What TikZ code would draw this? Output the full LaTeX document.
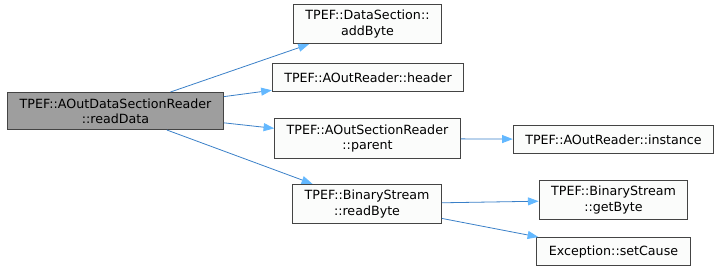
\documentclass[tikz,border=0pt]{standalone}
\usepackage{fontspec}
\setmainfont{DejaVu Sans}
\usetikzlibrary{arrows.meta}
\definecolor{edgeblue}{HTML}{3A80C8}
\definecolor{headblue}{HTML}{63B8FF}
\definecolor{boxline}{HTML}{444444}
\definecolor{boxfill}{HTML}{FBFCFB}
\definecolor{rootgrey}{HTML}{9E9E9E}
\begin{document}
\begin{tikzpicture}[x=0.75pt,y=-0.75pt,
  fn/.style={draw=boxline,fill=boxfill,line width=0.75pt,align=center,
    inner xsep=9pt,inner ysep=4.5pt,minimum height=21pt,
    font=\fontsize{9.5}{11.4}\selectfont},
  cur/.style={fn,fill=rootgrey},
  call/.style={draw=edgeblue,line width=0.6pt,
    -{Triangle[length=8pt,width=6pt,color=headblue]}}]
\useasboundingbox (0,0) rectangle (720,275);

% the function whose callees are shown
\node[cur] (root) at (115.5,111) {TPEF::AOutDataSectionReader\\::readData};

% direct callees
\node[fn] (addbyte)  at (367.5,24)    {TPEF::DataSection::\\addByte};
\node[fn] (header)   at (368,77.5)    {TPEF::AOutReader::header};
\node[fn] (parent)   at (367.5,138.5) {TPEF::AOutSectionReader\\::parent};
\node[fn] (readbyte) at (367,204)     {TPEF::BinaryStream\\::readByte};

% second level
\node[fn] (instance) at (613.5,139.5) {TPEF::AOutReader::instance};
\node[fn] (getbyte)  at (613.5,200)   {TPEF::BinaryStream\\::getByte};
\node[fn] (setcause) at (613.5,251.5) {Exception::setCause};

\draw[call] (root) -- (addbyte);
\draw[call] (root) -- (header);
\draw[call] (root) -- (parent);
\draw[call] (root) -- (readbyte);
\draw[call] (parent) -- (instance);
\draw[call] (readbyte) -- (getbyte);
\draw[call] (readbyte) -- (setcause);
\end{tikzpicture}
\end{document}
